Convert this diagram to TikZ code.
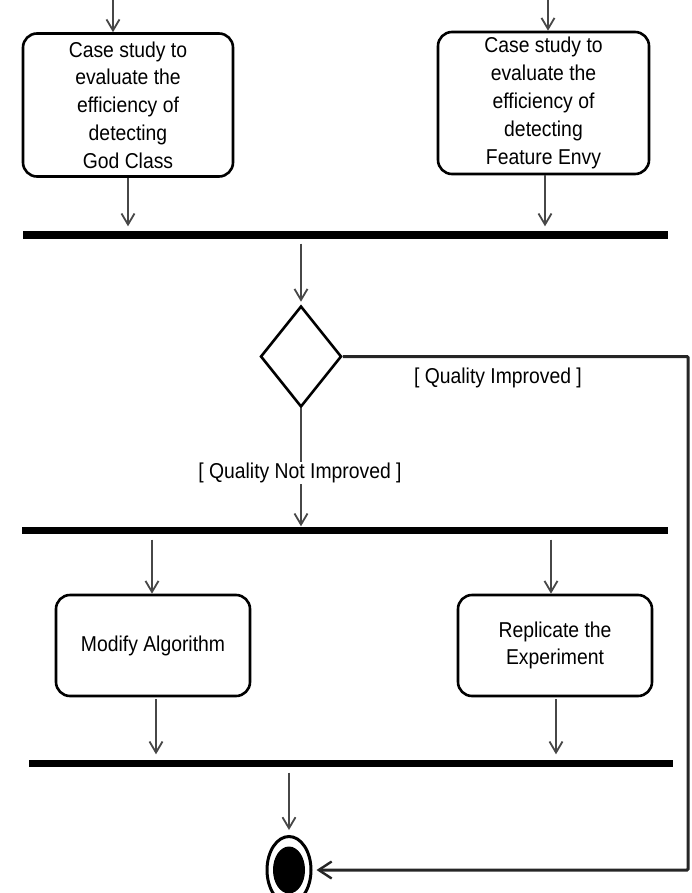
\documentclass[tikz,border=0pt]{standalone}
\usepackage{fontspec}
\setmainfont{Liberation Sans}[FakeStretch=0.9]
\usetikzlibrary{arrows.meta,shapes.geometric}

\begin{document}
\begin{tikzpicture}[x=1pt,y=-1pt,
  activity/.style={draw, line width=2.6pt, rounded corners=14pt, align=center,
    inner sep=0pt, font=\fontsize{21.5}{27.8}\selectfont},
  syncbar/.style={fill=black, inner sep=0pt, minimum height=7pt},
  flow/.style={draw=black!72, line width=1.4pt,
    -{Straight Barb[length=11pt,width=13pt,line width=1.8pt]}},
  backflow/.style={draw=black!85, line width=3pt, rounded corners=1pt,
    -{Straight Barb[length=13pt,width=17pt,line width=2.4pt]}},
  guard/.style={font=\fontsize{21.5}{24}\selectfont, inner sep=1pt},
]
\useasboundingbox (0,0) rectangle (691,893);
\clip (0,0) rectangle (691,893);

% activities
\node[activity, minimum width=210pt, minimum height=143pt] (godclass) at (128,105)
  {Case study to\\evaluate the\\efficiency of\\detecting\\God Class};
\node[activity, minimum width=211pt, minimum height=142pt] (envy) at (543.5,103)
  {Case study to\\evaluate the\\efficiency of\\detecting\\Feature Envy};
\node[activity, minimum width=194pt, minimum height=101pt] (modify) at (153,645.5)
  {Modify Algorithm};
\node[activity, minimum width=194pt, minimum height=101pt] (replicate) at (555,645.5)
  {Replicate the\\Experiment};

% synchronisation bars
\node[syncbar, minimum width=645pt] (join1) at (345.5,235) {};
\node[syncbar, minimum width=646pt] (fork2) at (345,530) {};
\node[syncbar, minimum width=644pt] (join3) at (351,763) {};

% decision
\node[diamond, draw, line width=2.6pt, inner sep=0pt,
  minimum width=81pt, minimum height=101pt] (decide) at (301,356.5) {};

% final node
\node[ellipse, draw, line width=3pt, inner sep=0pt,
  minimum width=44pt, minimum height=67pt] (final) at (289,870) {};
\node[ellipse, fill=black, inner sep=0pt,
  minimum width=32pt, minimum height=47pt] (finaldot) at (289,870) {};

% incoming flows from above
\coordinate (in1) at (113,0);
\coordinate (in2) at (548,0);
\draw[flow] (in1) -- (in1 |- godclass.north);
\draw[flow] (in2) -- (in2 |- envy.north);

% into the first join
\coordinate (x1) at (128,0);
\coordinate (x2) at (545,0);
\draw[flow, shorten >=5pt] (x1 |- godclass.south) -- (x1 |- join1.north);
\draw[flow, shorten >=5pt] (x2 |- envy.south) -- (x2 |- join1.north);

% join to decision
\draw[flow, shorten <=5pt, shorten >=3pt] (join1.south -| decide.north) -- (decide.north);

% quality not improved
\draw[flow] (decide.south) -- (decide.south |- fork2.north);
\node[guard, fill=white] (notimproved) at (300,473) {[ Quality Not Improved ]};

% quality improved: straight to the end
\coordinate (rt) at (688,356.5);
\draw[backflow, shorten >=4pt] (decide.east) -- (rt) |- (final.east);
\node[guard] (improved) at (498,378) {[ Quality Improved ]};

% fork to activities
\coordinate (x3) at (152,0);
\coordinate (x4) at (551,0);
\draw[flow, shorten <=6pt] (x3 |- fork2.south) -- (x3 |- modify.north);
\draw[flow, shorten <=6pt] (x4 |- fork2.south) -- (x4 |- replicate.north);

% activities to last join
\coordinate (x5) at (156,0);
\coordinate (x6) at (556,0);
\draw[flow, shorten <=2pt, shorten >=5pt] (x5 |- modify.south) -- (x5 |- join3.north);
\draw[flow, shorten <=2pt, shorten >=5pt] (x6 |- replicate.south) -- (x6 |- join3.north);

% last join to final node
\draw[flow, shorten <=6pt, shorten >=5pt] (join3.south -| final.north) -- (final.north);
\end{tikzpicture}
\end{document}
